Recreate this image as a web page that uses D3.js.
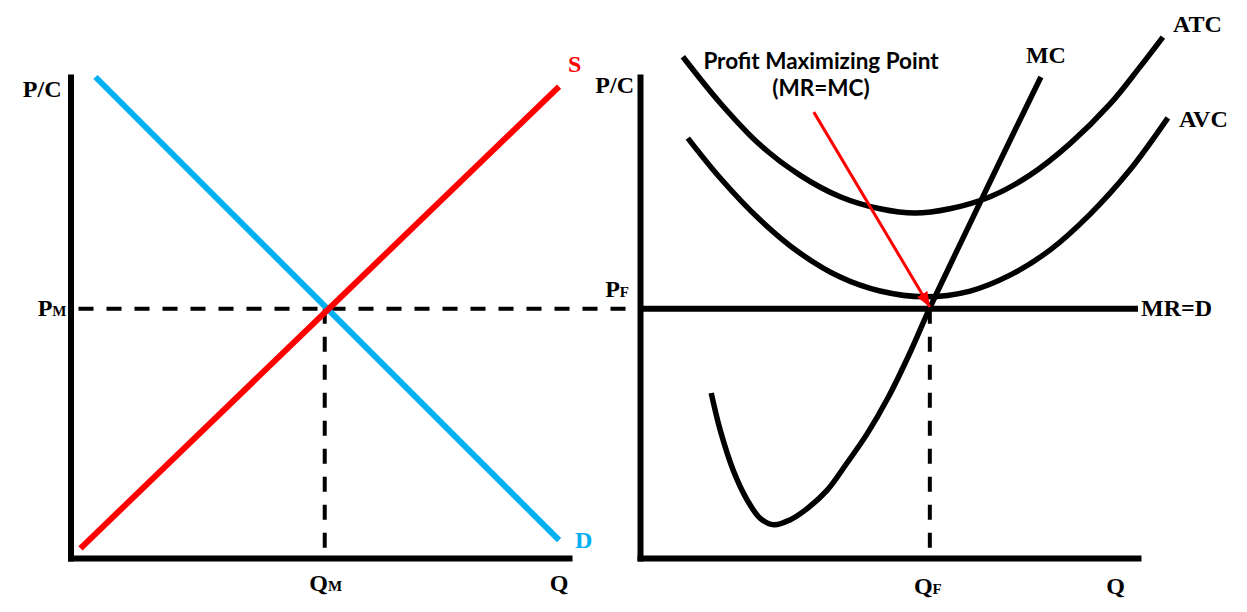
<!DOCTYPE html>
<html><head><meta charset="utf-8">
<script src="https://cdn.jsdelivr.net/npm/d3@7"></script>
<style>body{margin:0;background:#fff} svg{display:block}</style>
</head><body>
<svg id="c" width="1247" height="612"></svg>
<script>
// ---------- data (chart units, both panels 0..10) ----------
const supplyPts = [[0.2, 0.2], [9.8, 9.8]];
const demandPts = [[0.5, 10.0], [9.8, 0.37]];
const qM = 5.1, pM = 5.18;
const qF = 5.82, pF = 5.18;
const mrPts = [[0, 5.18], [10, 5.18]];
const mcPts = [[1.43,3.43],[1.61,2.66],[1.87,1.83],[2.15,1.21],[2.41,0.83],[2.69,0.69],[3.01,0.79],[3.35,1.02],[3.76,1.41],[4.16,1.98],[4.56,2.58],[4.98,3.33],[5.40,4.22],[5.82,5.20],[6.37,6.40],[6.93,7.61],[7.49,8.81],[8.05,10.0]];
const atcPts = [[0.86,10.42],[1.61,9.46],[2.41,8.59],[3.21,7.96],[4.02,7.51],[4.82,7.26],[5.52,7.17],[6.22,7.26],[7.03,7.51],[7.83,7.96],[8.63,8.61],[9.44,9.44],[10.04,10.21],[10.50,10.83]];
const avcPts = [[0.96,8.73],[1.61,7.90],[2.41,7.03],[3.21,6.34],[4.02,5.84],[4.82,5.55],[5.72,5.43],[6.63,5.55],[7.43,5.88],[8.23,6.40],[9.04,7.15],[9.84,8.07],[10.60,9.15]];
const arrowPts = [[3.49, 9.27], [5.82, 5.22]];
const axisLabels = ["P/C", "Q"];
const leftTicks = { p: ["P", "M"], q: ["Q", "M"] };
const rightTicks = { p: ["P", "F"], q: ["Q", "F"] };
const curveNames = { s: "S", d: "D", mc: "MC", atc: "ATC", avc: "AVC", mr: "MR=D" };
const noteLines = ["Profit Maximizing Point", "(MR=MC)"];

// ---------- scales ----------
const svg = d3.select("#c");
svg.append("rect").attr("width", 1247).attr("height", 612).attr("fill", "#fff");
const y = d3.scaleLinear().domain([0, 10]).range([558, 77]);
const xL = d3.scaleLinear().domain([0, 10]).range([70.5, 569]);
const xR = d3.scaleLinear().domain([0, 10]).range([640, 1138]);

const BLUE = "#00B0F0", RED = "#FF0000";
const serif = "'Liberation Serif', 'Times New Roman', serif";

const defs = svg.append("defs");
defs.append("marker").attr("id", "ah").attr("markerUnits", "userSpaceOnUse")
  .attr("markerWidth", 16).attr("markerHeight", 12).attr("refX", 15).attr("refY", 6)
  .attr("orient", "auto")
  .append("path").attr("d", "M0,0 L15,6 L0,12 Z").attr("fill", RED);

// ---------- dashed guide lines ----------
const dash = svg.append("g").attr("stroke", "#000").attr("stroke-width", 4)
  .attr("stroke-dasharray", "15,13").attr("fill", "none");
dash.append("line").attr("x1", xL(0) + 8).attr("x2", xR(0) - 3)
  .attr("y1", y(pM)).attr("y2", y(pM));
dash.append("line").attr("x1", xL(qM)).attr("x2", xL(qM))
  .attr("y1", y(pM)).attr("y2", y(0) - 3);
dash.append("line").attr("x1", xR(qF)).attr("x2", xR(qF))
  .attr("y1", y(pF)).attr("y2", y(0) - 3);

// ---------- axes ----------
function drawAxes(x) {
  const gy = svg.append("g").attr("transform", `translate(${x(0)},0)`)
    .call(d3.axisLeft(y).ticks(0).tickSizeOuter(0));
  const gx = svg.append("g").attr("transform", `translate(0,${y(0)})`)
    .call(d3.axisBottom(x).ticks(0).tickSizeOuter(0));
  [gy, gx].forEach(g => g.select(".domain").attr("stroke", "#000")
    .attr("stroke-width", 6).attr("stroke-linecap", "square"));
}
drawAxes(xL);
drawAxes(xR);

// ---------- curves ----------
const lineL = d3.line().x(d => xL(d[0])).y(d => y(d[1]));
const lineR = d3.line().x(d => xR(d[0])).y(d => y(d[1])).curve(d3.curveCatmullRom.alpha(0.5));
const lineRs = d3.line().x(d => xR(d[0])).y(d => y(d[1]));

svg.append("path").attr("d", lineL(demandPts)).attr("stroke", BLUE).attr("stroke-width", 6).attr("fill", "none");
svg.append("path").attr("d", lineL(supplyPts)).attr("stroke", RED).attr("stroke-width", 6).attr("fill", "none");

svg.append("path").attr("d", lineRs(mrPts)).attr("stroke", "#000").attr("stroke-width", 6).attr("fill", "none");
[atcPts, avcPts, mcPts].forEach(p =>
  svg.append("path").attr("d", lineR(p)).attr("stroke", "#000").attr("stroke-width", 5.5).attr("fill", "none"));

svg.append("path").attr("d", lineRs(arrowPts)).attr("stroke", RED).attr("stroke-width", 3)
  .attr("fill", "none").attr("marker-end", "url(#ah)");

// ---------- text ----------
const T = svg.append("g").attr("font-family", serif).attr("font-weight", "bold").attr("font-size", 24);
function lab(x, yy, txt, anchor, color) {
  return T.append("text").attr("x", x).attr("y", yy).attr("text-anchor", anchor || "start")
    .attr("fill", color || "#000").text(txt);
}
function sub(x, yy, pair, anchor) {
  const t = T.append("text").attr("x", x).attr("y", yy).attr("text-anchor", anchor || "start");
  t.append("tspan").text(pair[0]);
  t.append("tspan").attr("font-size", 15).text(pair[1]);
  return t;
}
lab(xL(0) - 9, 97, axisLabels[0], "end");
lab(xR(0) - 6, 93, axisLabels[0], "end");
lab(xL(9.8), 591, axisLabels[1], "middle");
lab(xR(9.55), 594, axisLabels[1], "middle");
sub(xL(0) - 4, y(pM) + 7, leftTicks.p, "end");
sub(xL(qM) + 1, 591, leftTicks.q, "middle");
sub(xR(0) - 11, y(pF) - 12, rightTicks.p, "end");
sub(xR(qF) - 2, 594, rightTicks.q, "middle");

lab(xL(9.8) + 9, 72, curveNames.s, "start", RED);
lab(xL(9.8) + 16, 548, curveNames.d, "start", BLUE);
lab(xR(8.05) - 15, 63, curveNames.mc, "start");
lab(xR(10.50) + 10, 32, curveNames.atc, "start");
lab(xR(10.60) + 11, 127, curveNames.avc, "start");
lab(xR(10) + 3, 316, curveNames.mr, "start");

const N = svg.append("g").attr("font-family", "Lato, 'Open Sans', sans-serif")
  .attr("font-weight", "bold").attr("font-size", 22.5).attr("text-anchor", "middle").attr("fill", "#000");
N.append("text").attr("x", 821).attr("y", 69).text(noteLines[0]);
N.append("text").attr("x", 821).attr("y", 96).text(noteLines[1]);
</script>
</body></html>
